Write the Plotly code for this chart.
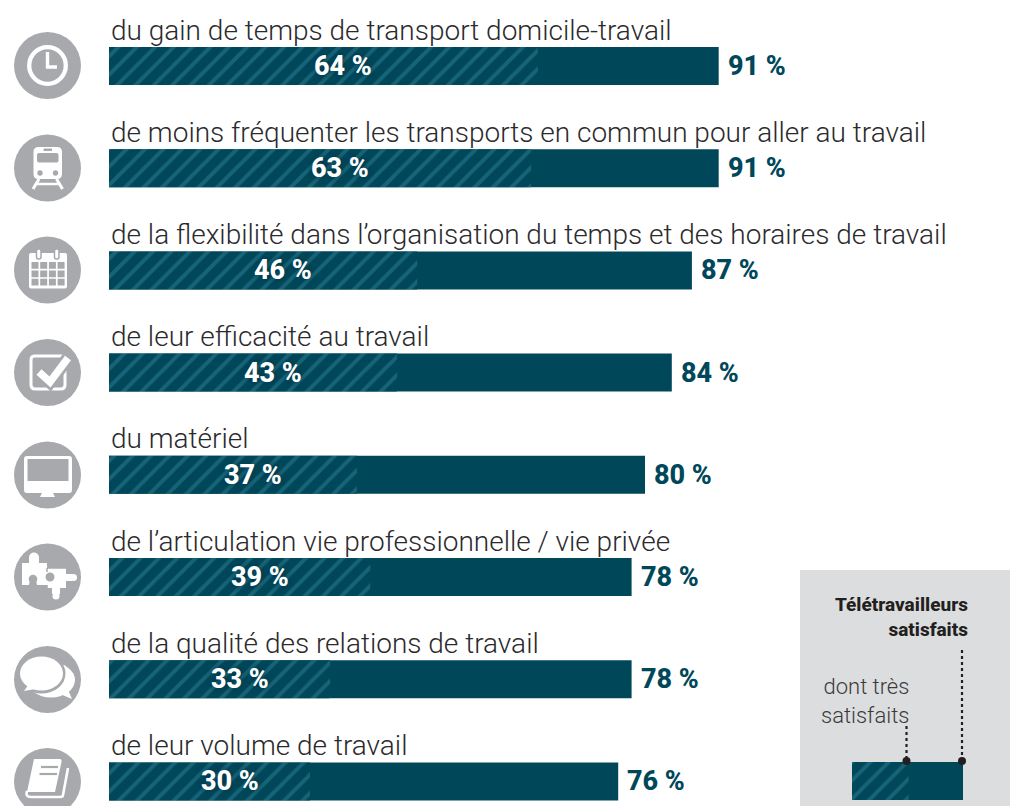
import plotly.graph_objects as go

titles = ["du gain de temps de transport domicile-travail",
          "de moins fréquenter les transports en commun pour aller au travail",
          "de la flexibilité dans l’organisation du temps et des horaires de travail",
          "de leur efficacité au travail",
          "du matériel",
          "de l’articulation vie professionnelle / vie privée",
          "de la qualité des relations de travail",
          "de leur volume de travail"]
satisfied = [91, 91, 87, 84, 80, 78, 78, 76]
very_satisfied = [64, 63, 46, 43, 37, 39, 33, 30]
legend_total = [100]
legend_part = [51]
legend_title = "Télétravailleurs<br>satisfaits"
legend_sub = "dont très<br>satisfaits"

W, H = 1010, 806
DARK, STRIPE, GREY, TXT = "#00475a", "#2e8296", "#a7a9ac", "#2b2a2d"
FONT = "Roboto"
rows = list(range(len(titles)))

fig = go.Figure()
fig.add_bar(x=satisfied, y=rows, orientation="h", width=0.372,
            marker=dict(color=DARK, line_width=0), hoverinfo="skip")
fig.add_bar(x=very_satisfied, y=rows, orientation="h", width=0.372,
            marker=dict(color=DARK, line_width=0,
                        pattern=dict(shape="/", fgcolor=STRIPE, bgcolor=DARK, size=13, solidity=0.3)),
            hoverinfo="skip")
fig.add_bar(x=legend_total, y=[0], orientation="h", width=1, xaxis="x2", yaxis="y2",
            marker=dict(color=DARK, line_width=0), hoverinfo="skip")
fig.add_bar(x=legend_part, y=[0], orientation="h", width=1, xaxis="x2", yaxis="y2",
            marker=dict(color=DARK, line_width=0,
                        pattern=dict(shape="/", fgcolor=STRIPE, bgcolor=DARK, size=13, solidity=0.3)),
            hoverinfo="skip")

px = lambda x: x / W
py = lambda y: 1 - y / H
shapes = []


def path(d, fill="white", line=None, lw=0):
    toks = d.split()
    out = []
    i = 0
    while i < len(toks):
        t = toks[i]
        if t in ("M", "L", "Q"):
            n = 2 if t == "Q" else 1
            out.append(t)
            i += 1
            for _ in range(n):
                out.append(f"{px(float(toks[i])):.5f},{py(float(toks[i+1])):.5f}")
                i += 2
        else:
            out.append(t)
            i += 1
    shapes.append(dict(type="path", xref="paper", yref="paper", path=" ".join(out),
                       fillcolor=fill, line=dict(color=line or "rgba(0,0,0,0)", width=lw), layer="above"))


def rrect(x0, y0, x1, y1, r=2, fill="white", line=None, lw=0):
    path(f"M {x0+r} {y0} L {x1-r} {y0} Q {x1} {y0} {x1} {y0+r} L {x1} {y1-r} Q {x1} {y1} {x1-r} {y1} "
         f"L {x0+r} {y1} Q {x0} {y1} {x0} {y1-r} L {x0} {y0+r} Q {x0} {y0} {x0+r} {y0} Z", fill, line, lw)


def ell(cx, cy, rx, ry=None, fill="white", line=None, lw=0):
    ry = ry or rx
    shapes.append(dict(type="circle", xref="paper", yref="paper", x0=px(cx-rx), x1=px(cx+rx),
                       y0=py(cy+ry), y1=py(cy-ry), fillcolor=fill,
                       line=dict(color=line or "rgba(0,0,0,0)", width=lw), layer="above"))


def stroke(d, lw=3, color="white"):
    path(d, "rgba(0,0,0,0)", color, lw)


# legend panel
shapes.append(dict(type="rect", xref="paper", yref="paper", x0=px(800), x1=1, y0=0, y1=py(570),
                   fillcolor="#dcddde", line_width=0, layer="below"))
# leader lines
for xx, y0 in ((906.5, 726), (962, 650)):
    shapes.append(dict(type="line", xref="paper", yref="paper", x0=px(xx), x1=px(xx), y0=py(y0), y1=py(760),
                       line=dict(color="#231f20", width=2.2, dash="dot"), layer="above"))
    ell(xx, 761, 4, fill="#231f20")

# icon discs
CX = 47.5
centers = [65.5, 168, 270, 372.5, 475, 577, 679.5, 781.5]
for c in centers:
    ell(CX, c, 33.5, fill=GREY)

# clock
ell(47.5, 65.5, 18.3, fill="rgba(0,0,0,0)", line="white", lw=4.3)
stroke("M 47.5 52 L 47.5 67 L 57 67", 3.4)
# train
rrect(33.5, 147, 62, 179, 5)
rrect(37, 153, 58.5, 162.5, 2, fill=GREY)
rrect(43.5, 148.5, 52, 151, 0.5, fill=GREY)
ell(40, 173, 2.7, fill=GREY)
ell(55.5, 173, 2.7, fill=GREY)
stroke("M 39 179 L 33 189", 3)
stroke("M 56.5 179 L 62.5 189", 3)
stroke("M 36 184 L 59.5 184", 2.5)
# calendar
rrect(29, 253, 67, 288.5, 2)
rrect(36.5, 249, 41, 259, 2, fill="white", line=GREY, lw=1.5)
rrect(54.5, 249, 59, 259, 2, fill="white", line=GREY, lw=1.5)
for r in range(3):
    for c in range(4):
        xx = 31.5 + c * 8.7
        yy = 262 + r * 8.4
        rrect(xx, yy, xx + 7, yy + 6.8, 0.3, fill=GREY)
# check box
rrect(31, 356, 65, 389, 4, fill="rgba(0,0,0,0)", line="white", lw=3)
stroke("M 39 372 L 50 382 L 68 358", 13, GREY)
stroke("M 39 372 L 50 382 L 68 358", 7.5)
# monitor
rrect(24, 456, 72, 493, 3)
rrect(27.5, 459, 68.5, 481, 0.5, fill=GREY)
path("M 42 493 L 53 493 L 55 497 L 40 497 Z")
# puzzle
path("M 22 563 L 29 563 L 29 558 L 39 558 L 39 563 L 47 563 L 47 568 L 66 568 L 66 574 L 72 574 L 72 581 L 66 581 "
     "L 66 588 L 60 588 L 60 594 L 52 594 L 52 588 L 47 588 L 47 585 L 22 585 Z")
ell(34, 557.5, 5)
ell(33, 579, 4.3, fill=GREY)
path("M 29 585 L 37 585 L 36 580 L 30 580 Z", fill=GREY)
ell(73.5, 577.5, 3.5)
ell(56, 596, 3.5)
ell(50, 577, 4.5, fill=GREY)
stroke("M 47 568 L 47 572", 1.5, GREY)
stroke("M 47 568 L 66 568", 1.5, GREY)
stroke("M 47 585 L 47 589", 1.5, GREY)
# speech bubbles
ell(51, 680, 24, 17.5)
path("M 60 694 L 72 699 L 66 685 Z")
ell(41.5, 673.5, 24, 20, fill=GREY)
ell(41.5, 673.5, 21.5, 17)
path("M 29 684 L 24 691 L 41 688 Z")
# book
path("M 34 759 L 60 759 Q 62 759 61.5 762 L 55 792 L 27 792 Z")
stroke("M 41 767 L 58 767", 2.2, GREY)
stroke("M 39.5 774 L 57 774", 2.2, GREY)
stroke("M 68 768 L 63 795 Q 63 797 60 797 L 31 797 Q 25 797 27 791", 2.6)

annos = []
for i in rows:
    annos.append(dict(x=0, y=i, xref="x", yref="y", text=titles[i], showarrow=False, xanchor="left",
                      yanchor="middle", yshift=36, xshift=0,
                      font=dict(family=FONT, size=28, color=TXT, weight=300)))
    annos.append(dict(x=satisfied[i], y=i, xref="x", yref="y", text=f"{satisfied[i]} %", showarrow=False,
                      xanchor="left", yanchor="middle", xshift=7,
                      font=dict(family=FONT, size=27, color=DARK, weight=800)))
    annos.append(dict(x=very_satisfied[i] / 2, y=i, xref="x", yref="y", text=f"{very_satisfied[i]} %",
                      showarrow=False, xanchor="center", yanchor="middle", xshift=20,
                      font=dict(family=FONT, size=27, color="white", weight=800,
                                shadow="0 0 6px rgba(0,50,65,0.9)")))
annos.append(dict(x=px(970), y=py(617), xref="paper", yref="paper", text=legend_title, showarrow=False,
                  xanchor="right", yanchor="middle", align="right",
                  font=dict(family=FONT, size=19, color="#231f20", weight=800)))
annos.append(dict(x=px(911), y=py(701), xref="paper", yref="paper", text=legend_sub, showarrow=False,
                  xanchor="right", yanchor="middle", align="right",
                  font=dict(family=FONT, size=22, color="#3a3a3c", weight=300)))

hidden = dict(visible=False, fixedrange=True)
S = 6.7
R = 102.2
fig.update_layout(
    width=W, height=H, margin=dict(l=0, r=0, t=0, b=0, autoexpand=False),
    paper_bgcolor="white", plot_bgcolor="rgba(0,0,0,0)", showlegend=False, barmode="overlay",
    xaxis=dict(range=[-109 / S, (W - 109) / S], domain=[0, 1], **hidden),
    yaxis=dict(range=[(H - 66) / R, -66 / R], domain=[0, 1], **hidden),
    xaxis2=dict(range=[0, 100], domain=[px(852), px(963)], anchor="y2", **hidden),
    yaxis2=dict(range=[-0.5, 0.5], domain=[py(800), py(762)], anchor="x2", **hidden),
    shapes=shapes, annotations=annos,
)
fig.write_html("out.html", post_script="document.body.style.margin='0';", config=dict(displayModeBar=False))
